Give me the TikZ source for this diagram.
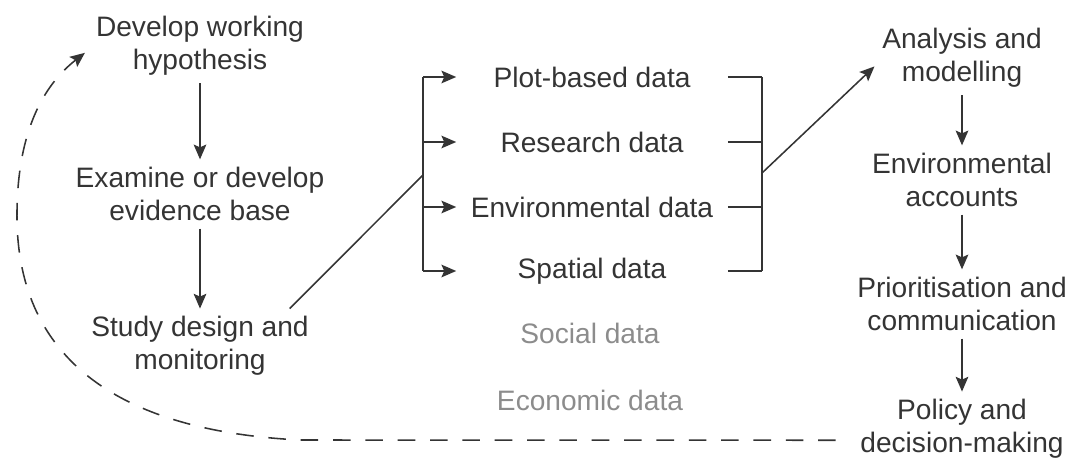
\documentclass[tikz,border=0pt]{standalone}
\usepackage{fontspec}
\setmainfont{Liberation Sans}
\usetikzlibrary{arrows.meta,positioning}

\definecolor{inkgrey}{HTML}{343434}
\definecolor{softgrey}{HTML}{8C8C8C}

\begin{document}
\begin{tikzpicture}[x=0.025cm, y=-0.025cm, color=inkgrey, line width=1.1pt,
        font=\fontsize{20}{23.5}\selectfont,
        stage/.style={align=center, inner sep=5pt},
        datum/.style={minimum width=6.75cm, inner sep=0pt},
        faint/.style={text=softgrey},
        flow/.style={-{Stealth[length=10.5pt,width=9pt,inset=2pt]}},
        feedback/.style={flow, dash pattern=on 12.5pt off 10.5pt}]
    \useasboundingbox (0,0) rectangle (1070,459);

    % left column
    \node[stage] (hyp) at (200,46) {Develop working\\hypothesis};
    \node[stage] (evid) at (200,194) {Examine or develop\\evidence base};
    \node[stage] (study) at (200,346) {Study design and\\monitoring};

    % data sources
    \node[datum] (plot) at (592,77) {Plot-based data};
    \node[datum] (research) at (592,142) {Research data};
    \node[datum] (envdata) at (592,207) {Environmental data};
    \node[datum] (spatial) at (592,271) {Spatial data};
    \node[datum, faint] (social) at (590,333) {Social data};
    \node[datum, faint] (economic) at (590,400) {Economic data};

    % right column
    \node[stage] (analysis) at (962,58) {Analysis and\\modelling};
    \node[stage] (accounts) at (962,180) {Environmental\\accounts};
    \node[stage] (priority) at (962,304) {Prioritisation and\\communication};
    \node[stage] (policy) at (962,429) {Policy and\\decision-making};

    \coordinate (split) at (423,175);
    \coordinate (merge) at (762,173);

    \draw[flow] (hyp) -- (evid);
    \draw[flow] (evid) -- (study);
    \draw ([xshift=-19pt]study.north east) -- (split);
    \draw (split |- plot) -- (split |- spatial);
    \foreach \n in {plot,research,envdata,spatial}
        \draw[flow] (split |- \n) -- (\n.west);
    \foreach \n in {plot,research,envdata,spatial}
        \draw (\n.east) -- (merge |- \n);
    \draw (merge |- plot) -- (merge |- spatial);
    \draw[flow] (merge) -- ([yshift=-6pt]analysis.west);

    \draw[flow] (analysis) -- (accounts);
    \draw[flow] (accounts) -- (priority);
    \draw[flow] (priority) -- (policy);

    % feedback loop
    \draw[feedback, shorten <=12pt, shorten >=3pt] ([yshift=-8pt]policy.west) -- (300,440)
        .. controls (120,431) and (19,360) .. (17,220)
        .. controls (16,130) and (45,84) .. ([yshift=-3pt]hyp.west);
\end{tikzpicture}
\end{document}
